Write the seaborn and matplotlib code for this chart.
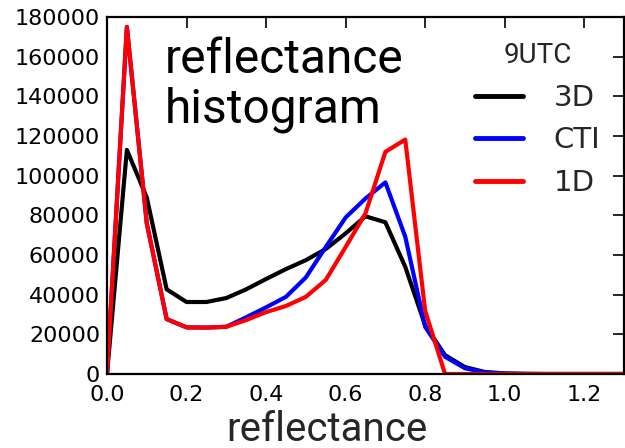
import numpy as np
import pandas as pd
import matplotlib
matplotlib.use("Agg")
import matplotlib.pyplot as plt
import seaborn as sns

reflectance = [0.00, 0.05, 0.10, 0.15, 0.20, 0.25, 0.30, 0.35, 0.40, 0.45,
               0.50, 0.55, 0.60, 0.65, 0.70, 0.75, 0.80, 0.85, 0.90, 0.95,
               1.00, 1.05, 1.10, 1.15, 1.20, 1.25, 1.30]
count_3d = [0, 113000, 89000, 42700, 36300, 36300, 38300, 42700, 47900, 52900,
            57400, 63000, 70900, 79500, 76500, 54000, 24500, 9500, 3500, 1000,
            300, 100, 0, 0, 0, 0, 0]
count_cti = [0, 175000, 76000, 27700, 23500, 23400, 23800, 28600, 33600, 38900,
             48700, 64000, 78900, 88500, 96600, 69200, 23800, 8700, 2900, 800,
             200, 50, 0, 0, 0, 0, 0]
count_1d = [0, 175000, 76000, 27700, 23500, 23400, 23800, 27200, 31200, 34300,
            38900, 47400, 64000, 81000, 112000, 118200, 31900, 0, 0, 0,
            0, 0, 0, 0, 0, 0, 0]
series_names = ["3D", "CTI", "1D"]
series_colors = ["black", "blue", "red"]
xticks = [0.0, 0.2, 0.4, 0.6, 0.8, 1.0, 1.2]
yticks = [0, 20000, 40000, 60000, 80000, 100000, 120000, 140000, 160000, 180000]

df = pd.concat([
    pd.DataFrame({"reflectance": reflectance, "count": vals, "run": name})
    for name, vals in zip(series_names, [count_3d, count_cti, count_1d])
], ignore_index=True)

sns.set_style("white")
plt.rcParams["font.family"] = ["DejaVu Sans"]

fig = plt.figure(figsize=(6.25, 4.48), dpi=100)
ax = fig.add_axes([107 / 625, 1 - 374 / 448, (624 - 107) / 625, (374 - 17) / 448])

sns.lineplot(data=df, x="reflectance", y="count", hue="run",
             hue_order=series_names,
             palette=dict(zip(series_names, series_colors)),
             linewidth=3.0, ax=ax, legend=True)

ax.set_xlim(0, 1.3)
ax.set_ylim(0, 180000)
ax.set_xticks(xticks)
ax.set_xticklabels([f"{t:.1f}" for t in xticks])
ax.set_yticks(yticks)
ax.set_yticklabels([str(t) for t in yticks])
ax.tick_params(axis="both", direction="in", length=8, width=1.2,
               top=True, right=True, labelsize=16, pad=5, color="black",
               labelcolor="black")
ax.tick_params(axis="x", pad=8)
for s in ax.spines.values():
    s.set_visible(True)
    s.set_linewidth(1.6)
    s.set_color("black")

ax.set_ylabel("")
ax.set_xlabel("reflectance", fontsize=29, family="Roboto", labelpad=2)
ax.xaxis.set_label_coords((327 - 107) / 517, -0.102)
ax.xaxis.label.set_va("top")

ax.text(0.112, 0.945, "reflectance\nhistogram", transform=ax.transAxes,
        ha="left", va="top", fontsize=34.5, family="Roboto",
        linespacing=1.12, color="black")

leg = ax.legend(title="9UTC", frameon=False, loc="upper right",
                bbox_to_anchor=(1.005, 1.003),
                prop={"family": "DejaVu Sans", "size": 21},
                handlelength=1.65, handletextpad=1.05, labelspacing=0.5)
leg.get_title().set_fontfamily("Roboto")
leg.get_title().set_fontsize(20)
for line in leg.get_lines():
    line.set_linewidth(3.5)

fig.savefig("out.png", dpi=100)
